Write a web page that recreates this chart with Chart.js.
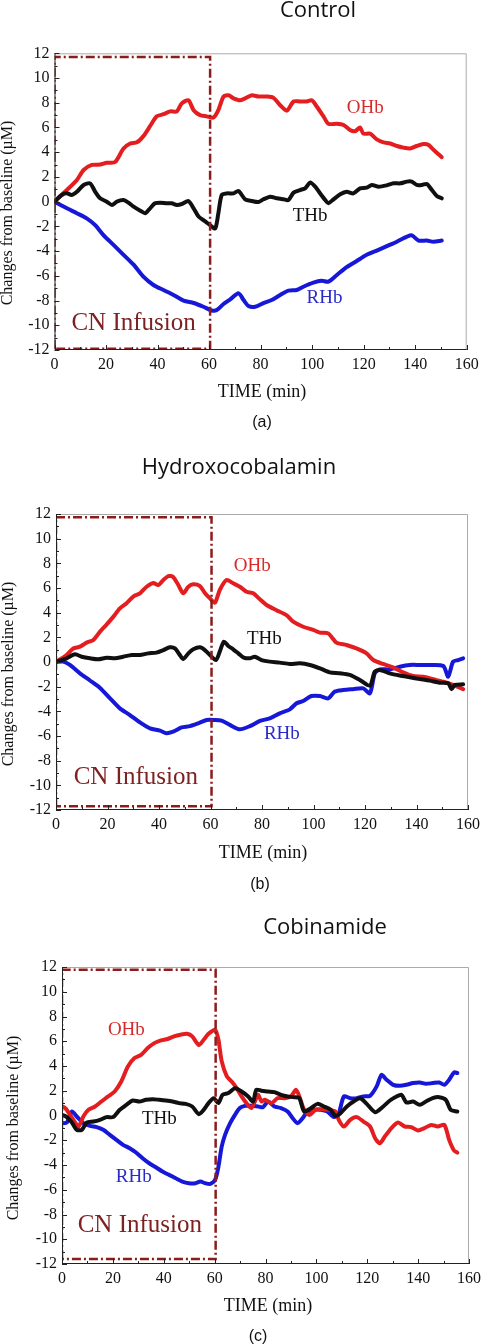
<!DOCTYPE html>
<html>
<head>
<meta charset="utf-8">
<script src="https://cdn.jsdelivr.net/npm/chart.js@4.4.1/dist/chart.umd.min.js"></script>
<style>
  html, body { margin: 0; padding: 0; background: #fff; }
  body { width: 486px; height: 1344px; position: relative; overflow: hidden; }
  canvas { position: absolute; left: 0; }
</style>
</head>
<body>
<canvas id="pa" width="486" height="440" style="top:0px"></canvas>
<canvas id="pb" width="486" height="460" style="top:440px"></canvas>
<canvas id="pc" width="486" height="464" style="top:880px"></canvas>
<script>
// ── Data (min, µM) ──────────────────────────────────────────
// (a) Control
var aOHbT = [0,4.8,8.7,11.3,14.5,17.7,20.3,23.5,26.8,29.4,32,34.5,37.1,39.7,42.3,44.9,47.5,49.4,52,54,56.5,59.1,61.7,63.6,65.6,67.5,69.5,72,74,76.6,79.2,82.4,85,87.6,90.2,92.8,95.3,97.9,99.9,101.8,104.4,106.3,109.6,112.2,114.7,116.7,118.6,119.9,122.5,125.1,127.7,130.3,132.9,135.4,138,140.6,143.2,145.1,147.1,150.3];
var aOHbV = [0,0.94,1.75,2.56,2.97,3.0,3.15,3.2,4.3,4.7,4.8,5.3,6.1,6.9,7.07,7.3,7.3,7.95,8.2,7.4,7.0,6.9,6.8,7.4,8.5,8.6,8.36,8.2,8.36,8.6,8.5,8.5,8.4,7.8,7.36,8.1,8.1,8.1,8.2,7.7,6.9,6.3,6.3,6.2,5.8,5.7,6.0,5.5,5.5,5.04,4.8,4.7,4.5,4.37,4.3,4.5,4.66,4.6,4.2,3.6];
var aTHbT = [0,2.8,4.8,6.7,8.7,11.3,13.8,15.8,17.7,20.3,22.3,24.2,26.8,28.7,30.7,33.3,35.2,37.1,39,41,43.6,45.5,47.5,49.4,52,54,55.9,58.5,60.4,62.4,63.6,64.9,66.9,69.5,71.4,74,76.6,79.2,81.1,83.7,86.3,88.9,90.8,92.8,95.3,97.3,99.2,101.2,103.1,105.1,106.3,108.3,110.9,113.4,116,118.6,121.2,123.2,125.8,129,131.6,134.2,136.8,138.7,140.6,142.6,144.5,146.5,148.4,150.3];
var aTHbV = [0,0.54,0.67,0.54,0.8,1.35,1.48,0.8,0.27,0,-0.27,0,0.13,-0.08,-0.4,-0.73,-0.94,-0.54,-0.13,-0.08,-0.13,-0.13,-0.27,-0.19,0.05,-0.54,-1.2,-1.6,-1.9,-2.16,-0.94,0.54,0.67,0.67,0.86,0.19,0.05,-0.03,0.19,0.4,0.27,0.19,0.13,0.73,0.94,1.08,1.54,1.21,0.67,0.13,-0.13,0.19,0.59,0.8,0.67,1.08,1.13,1.35,1.21,1.32,1.48,1.48,1.62,1.62,1.35,1.35,1.43,0.94,0.46,0.27];
var aRHbT = [0,4.8,8.7,12.5,15.8,19,22.9,26.8,30.7,34.5,38.4,42.3,46.2,50.1,54,57.8,61,63,65.6,68.2,71.4,73.4,75.3,77.9,81.1,84.3,87.6,90.8,94,96.6,100.5,103.7,106.3,109.6,113.4,117.3,121.2,125.1,129,132.9,136.8,138.7,141.3,144.5,147.1,150.3];
var aRHbV = [0,-0.54,-0.94,-1.35,-1.9,-2.7,-3.5,-4.3,-5.1,-6.07,-6.74,-7.15,-7.55,-8.0,-8.2,-8.5,-8.8,-8.77,-8.28,-7.9,-7.4,-7.96,-8.44,-8.5,-8.2,-7.96,-7.55,-7.2,-7.15,-6.88,-6.55,-6.4,-6.47,-5.93,-5.3,-4.8,-4.3,-3.96,-3.6,-3.24,-2.83,-2.72,-3.15,-3.15,-3.24,-3.15];

// (b) Hydroxocobalamin
var bOHbT = [0,4.1,6.7,9.3,11.9,14.5,17.1,19.7,22.3,24.8,27.4,30,32.6,35.2,37.8,39.7,41.7,43.6,45.5,47.5,49.4,51.4,53.3,55.9,57.8,59.8,61.7,63.6,66.2,68.8,71.4,74,76.6,79.2,81.8,85.6,89.5,92.1,96,99.9,102.5,105.7,108.9,112.8,116.7,120.6,123.2,127,130.9,134.8,138.7,142.6,146.5,150.4,154.2,158.1];
var bOHbV = [0,0.57,1.1,1.24,1.57,1.78,2.46,3.05,3.68,4.35,4.76,5.3,5.57,6.1,6.4,6.24,6.65,6.97,6.9,6.24,5.57,6.1,6.3,6.16,5.6,5.16,4.8,5.84,6.65,6.38,6.1,5.7,5.57,5.08,4.62,4.2,3.8,3.27,2.86,2.6,2.38,2.32,1.57,1.38,1.1,0.7,0.16,-0.16,-0.43,-0.84,-1.14,-1.19,-1.4,-1.6,-1.86,-2.2];
var bTHbT = [0,4.1,7.4,10,13.2,16.4,19.7,22.9,26.1,29.4,32.6,35.8,39,41.7,44.2,46.2,48.1,49.4,51.4,53.3,55.9,57.8,59.8,62.1,63.6,65.2,66.9,68.8,70.8,72.7,75.3,77.2,79.8,83,86.9,90.8,94.7,98.6,102.5,106.3,110.2,114.1,118,121.9,123.8,125.7,129.6,133.5,137.4,141.3,145.1,149,152.3,153.6,154.9,158.1];
var bTHbV = [0,0.3,0.62,0.43,0.3,0.22,0.35,0.3,0.43,0.57,0.57,0.7,0.76,0.97,1.19,1.1,0.57,0.24,0.7,1.03,1.19,0.97,0.57,0.16,0.84,1.65,1.3,1.03,0.7,0.38,0.3,0.43,0.16,0.03,-0.05,-0.16,-0.11,-0.24,-0.51,-0.84,-0.92,-1.05,-1.46,-1.92,-0.78,-0.65,-0.92,-1.1,-1.24,-1.38,-1.51,-1.68,-1.73,-2.2,-1.86,-1.81];
var bRHbT = [0,2.8,5.4,9.3,13.2,17.1,21,24.8,28.7,32.6,36.5,40.4,42.9,45.5,48.8,52,55.2,58.5,61.7,64.3,67.5,71.4,75.3,79.2,83,86.9,90.8,93.4,96,99.2,102.5,105.7,108.3,111.5,115.4,119.3,121.9,123.8,125.7,129.6,133.5,137.4,141.3,145.1,150.4,152.3,154.2,156.2,158.1];
var bRHbV = [0,0.03,-0.24,-0.92,-1.5,-2.1,-2.95,-3.76,-4.3,-4.9,-5.38,-5.57,-5.78,-5.65,-5.3,-5.2,-4.97,-4.7,-4.7,-4.76,-5.1,-5.46,-5.2,-4.78,-4.57,-4.16,-3.84,-3.35,-3.16,-2.76,-2.76,-2.95,-2.4,-2.27,-2.2,-2.14,-2.54,-0.92,-0.6,-0.6,-0.38,-0.24,-0.24,-0.24,-0.32,-1.19,0.03,0.16,0.3];

// (c) Cobinamide
var cOHbT = [0,1.3,3.2,5.2,6.5,8.4,10.4,13,15.5,18.1,20.7,23.3,25.9,28.5,31.1,33.7,36.3,38.9,41.5,44,46.6,49.2,51.2,53.8,55.7,57.6,60.2,61.5,62.8,64.8,66.7,68.7,70.6,72.5,74.5,75.8,77.1,78.4,79.7,82.3,84.8,87.4,90,92,93.3,95.2,97.2,99.7,102.3,104.9,107.5,108.8,110.8,113.3,115.9,118.5,121.1,123.1,125,126.9,129.5,132.1,134.7,137.3,139.9,142.5,145.1,147.7,150.3,152.2,154.1,155.4];
var cOHbV = [0.73,0.6,0.05,-0.57,-0.9,-0.08,0.46,0.73,1.13,1.54,1.94,2.75,3.96,4.64,4.9,5.45,5.85,6.07,6.18,6.39,6.53,6.6,6.39,5.7,6.12,6.6,6.93,6.12,4.37,3.16,2.75,2.2,1.54,1.0,0.6,1.13,1.67,1.13,1.27,1.0,1.4,1.4,1.54,2.08,1.54,0.46,0.05,0.46,0.51,0.46,0.32,-0.35,-0.89,-0.35,-0.13,-0.49,-0.89,-1.83,-2.24,-1.7,-1.02,-0.57,-0.89,-0.94,-1.21,-1.02,-0.76,-0.89,-0.76,-1.97,-2.83,-3.0];
var cTHbT = [0,1.9,3.9,5.8,7.8,9.7,12.3,14.9,17.5,20.1,22.7,25.3,27.8,30.4,33,35.6,38.2,40.8,43.4,46,48.6,51.2,53.8,55.7,57.6,59.6,61.5,63.1,65.4,68,70.6,73.2,75.1,76.4,78.4,81,83.5,86.1,88.7,91.3,93.3,95.2,97.8,100.4,103,105.6,107.5,109.5,112,114.6,117.2,119.8,123.1,126.3,128.9,131.5,133.5,135.4,138,140.6,143.1,145.7,148.3,150.9,152.8,155.4];
var cTHbV = [0.05,-0.13,-0.57,-1.16,-1.16,-0.57,-0.49,-0.35,-0.13,-0.13,0.46,0.86,1.21,1.13,1.27,1.32,1.27,1.21,1.13,1.0,0.94,0.73,0.11,0.46,1.0,1.4,1.0,1.67,1.81,2.2,1.94,1.54,1.13,2.08,2.0,1.94,1.89,1.67,1.54,1.48,1.4,0.32,0.59,0.94,0.73,0.46,-0.03,0.19,0.73,1.13,1.4,0.94,0.27,0.73,1.21,1.54,1.67,1.05,1.13,0.86,1.13,1.4,1.48,1.27,0.46,0.32];
var cRHbT = [0,1.9,3.9,5.8,8.4,11,13.6,16.2,18.8,21.4,24,26.6,29.1,31.7,34.3,36.9,39.5,42.1,44.7,47.3,49.9,52.5,54.4,56.3,58.3,60.2,61.5,62.8,64.1,66.1,68,69.9,71.9,74.5,77.1,79,81,83.5,86.1,88.7,90.7,92.6,94.6,96.5,99.1,101.7,104.3,106.9,108.8,110.8,113.3,115.9,118.5,121.1,123.7,125.6,127.6,130.2,132.8,135.4,138,140.6,143.1,145.7,148.3,150.3,152.2,154.1,155.4];
var cRHbV = [-0.62,-0.57,0.32,-0.08,-0.62,-0.84,-0.94,-1.16,-1.56,-1.97,-2.37,-2.64,-2.99,-3.45,-3.86,-4.18,-4.53,-4.8,-5.07,-5.34,-5.47,-5.47,-5.34,-5.47,-5.53,-5.2,-4.13,-2.5,-1.56,-0.62,0.05,0.6,0.78,0.78,0.73,0.67,1.13,0.73,0.6,0.32,-0.22,-0.62,-0.22,0.32,0.46,0.46,0.32,-0.13,0.19,1.54,1.4,1.4,1.54,1.59,2.35,3.29,2.89,2.48,2.4,2.48,2.62,2.67,2.56,2.62,2.67,2.48,2.89,3.48,3.43];

// CN infusion window (0–60 min), drawn as a dash-dot box
var boxT  = [0, 0, 60.4, 60.4, 0];
var aBoxV = [-11.9, 11.7, 11.7, -11.9, -11.9];
var bBoxV = [-11.7, 11.73, 11.73, -11.7, -11.7];
var cBoxV = [-11.6, 11.78, 11.78, -11.6, -11.6];

// axis ticks
var xTicks = [0, 20, 40, 60, 80, 100, 120, 140, 160];
var yTicks = [-12, -10, -8, -6, -4, -2, 0, 2, 4, 6, 8, 10, 12];

// ── Styles ──────────────────────────────────────────────────
var RED = '#e41e20', BLUE = '#1717d8', BLACK = '#101010', BOX = '#8b1c1c';
var SERIF = '"Liberation Serif", "DejaVu Serif", serif';
var SANS  = '"Open Sans", "Noto Sans", sans-serif';

// text placement per panel (canvas px; notes in data units)
var DECOR = {
  pa: { area: {left: 54.5, top: 53.3, right: 466.7, bottom: 350},
        title: 'Control', titlePos: [318, 17], time: [262, 397], letter: '(a)', letterPos: [262, 423], ylab: [8, 213],
        notes: [['OHb', 120.6, 7.55, '#d92a2a', 19], ['THb', 99.2, -1.19, BLACK, 19], ['RHb', 104.8, -7.77, '#2a2ac8', 19], ['CN Infusion', 30.7, -9.84, '#7d2222', 25]] },
  pb: { area: {left: 56, top: 74, right: 468, bottom: 370},
        title: 'Hydroxocobalamin', titlePos: [239, 34], time: [263, 417.7], letter: '(b)', letterPos: [260, 445], ylab: [9, 234],
        notes: [['OHb', 76.2, 7.81, '#d92a2a', 19], ['THb', 80.9, 1.86, BLACK, 19], ['RHb', 87.7, -5.81, '#2a2ac8', 19], ['CN Infusion', 31.0, -9.38, '#7d2222', 25]] },
  pc: { area: {left: 62, top: 87, right: 473, bottom: 384},
        title: 'Cobinamide', titlePos: [325, 54], time: [268, 430.7], letter: '(c)', letterPos: [258, 457], ylab: [14, 248],
        notes: [['OHb', 25.3, 6.93, '#d92a2a', 19], ['THb', 38.3, -0.32, BLACK, 19], ['RHb', 28.2, -4.96, '#2a2ac8', 19], ['CN Infusion', 30.6, -8.87, '#7d2222', 25]] }
};

function pts(t, v) {
  return t.map(function(x, i) { return {x: x, y: v[i]}; });
}

function lineDs(t, v, color) {
  return { data: pts(t, v), borderColor: color, borderWidth: 4, pointRadius: 0,
           tension: 0.25, borderCapStyle: 'round', borderJoinStyle: 'round', fill: false };
}

// frame, inward ticks, titles and curve labels
var decorPlugin = {
  id: 'decor',
  afterDraw: function(chart) {
    var d = DECOR[chart.canvas.id];
    var ctx = chart.ctx, a = chart.chartArea;
    var xs = chart.scales.x, ys = chart.scales.y;
    ctx.save();
    // frame
    ctx.lineWidth = 1;
    ctx.strokeStyle = '#aaaaaa';
    ctx.beginPath();
    ctx.moveTo(a.left, a.top + 0.5); ctx.lineTo(a.right - 0.5, a.top + 0.5); ctx.lineTo(a.right - 0.5, a.bottom);
    ctx.stroke();
    ctx.strokeStyle = '#222';
    ctx.beginPath();
    ctx.moveTo(a.left + 0.5, a.top); ctx.lineTo(a.left + 0.5, a.bottom - 0.5); ctx.lineTo(a.right, a.bottom - 0.5);
    ctx.stroke();
    // inward ticks
    ctx.beginPath();
    for (var v = 0; v <= 160; v += 10) {
      var px = Math.round(xs.getPixelForValue(v)) + 0.5;
      var len = (v % 20 === 0) ? 5 : 3;
      ctx.moveTo(px, a.bottom); ctx.lineTo(px, a.bottom - len);
    }
    for (var w = -12; w <= 12; w += 1) {
      var py = Math.round(ys.getPixelForValue(w)) + 0.5;
      var l2 = (w % 2 === 0) ? 5 : 3;
      ctx.moveTo(a.left, py); ctx.lineTo(a.left + l2, py);
    }
    ctx.stroke();

    // curve labels
    ctx.textAlign = 'center';
    ctx.textBaseline = 'middle';
    d.notes.forEach(function(n) {
      ctx.fillStyle = n[3];
      ctx.font = n[4] + 'px ' + SERIF;
      ctx.fillText(n[0], xs.getPixelForValue(n[1]), ys.getPixelForValue(n[2]));
    });

    // panel title
    ctx.fillStyle = '#111';
    ctx.textBaseline = 'alphabetic';
    ctx.font = '22px ' + SANS;
    ctx.fillText(d.title, d.titlePos[0], d.titlePos[1]);
    // x axis title
    ctx.font = '18px ' + SERIF;
    ctx.fillText('TIME (min)', d.time[0], d.time[1]);
    // panel letter
    ctx.textBaseline = 'middle';
    ctx.font = '16px "Liberation Sans", Arial, sans-serif';
    ctx.fillText(d.letter, d.letterPos[0], d.letterPos[1]);
    // y axis title
    ctx.translate(d.ylab[0], d.ylab[1]);
    ctx.rotate(-Math.PI / 2);
    ctx.font = '16px ' + SERIF;
    ctx.fillText('Changes from baseline (\u00b5M)', 0, 0);
    ctx.restore();
  }
};

function mkPanel(id, oT, oV, tT, tV, rT, rV, bV) {
  var cv = document.getElementById(id);
  var ar = DECOR[id].area;
  return new Chart(cv, {
    type: 'line',
    data: {
      datasets: [
        { data: pts(boxT, bV), borderColor: BOX, borderWidth: 2.5, borderDash: [9, 3, 2, 3],
          pointRadius: 0, tension: 0, fill: false },
        lineDs(tT, tV, BLACK),
        lineDs(oT, oV, RED),
        lineDs(rT, rV, BLUE)
      ]
    },
    options: {
      responsive: false,
      animation: false,
      devicePixelRatio: 1,
      layout: { padding: { left: 0, top: ar.top, right: cv.width - ar.right, bottom: 0 } },
      plugins: { legend: { display: false }, tooltip: { enabled: false } },
      scales: {
        x: {
          type: 'linear', min: 0, max: 160,
          grid: { display: false, drawTicks: false },
          border: { display: false },
          afterBuildTicks: function(s) { s.ticks = xTicks.map(function(v) { return {value: v}; }); },
          ticks: { padding: 5, color: '#111', maxRotation: 0, autoSkip: false,
                   font: { family: SERIF, size: 16 }, callback: function(v) { return String(v); } },
          afterFit: function(s) { s.height = cv.height - ar.bottom; }
        },
        y: {
          type: 'linear', min: -12, max: 12,
          grid: { display: false, drawTicks: false },
          border: { display: false },
          afterBuildTicks: function(s) { s.ticks = yTicks.map(function(v) { return {value: v}; }); },
          ticks: { padding: 5, color: '#111', autoSkip: false,
                   font: { family: SERIF, size: 16 }, callback: function(v) { return String(v); } },
          afterFit: function(s) { s.width = ar.left; }
        }
      }
    },
    plugins: [decorPlugin]
  });
}

mkPanel('pa', aOHbT, aOHbV, aTHbT, aTHbV, aRHbT, aRHbV, aBoxV);
mkPanel('pb', bOHbT, bOHbV, bTHbT, bTHbV, bRHbT, bRHbV, bBoxV);
mkPanel('pc', cOHbT, cOHbV, cTHbT, cTHbV, cRHbT, cRHbV, cBoxV);
</script>
</body>
</html>
